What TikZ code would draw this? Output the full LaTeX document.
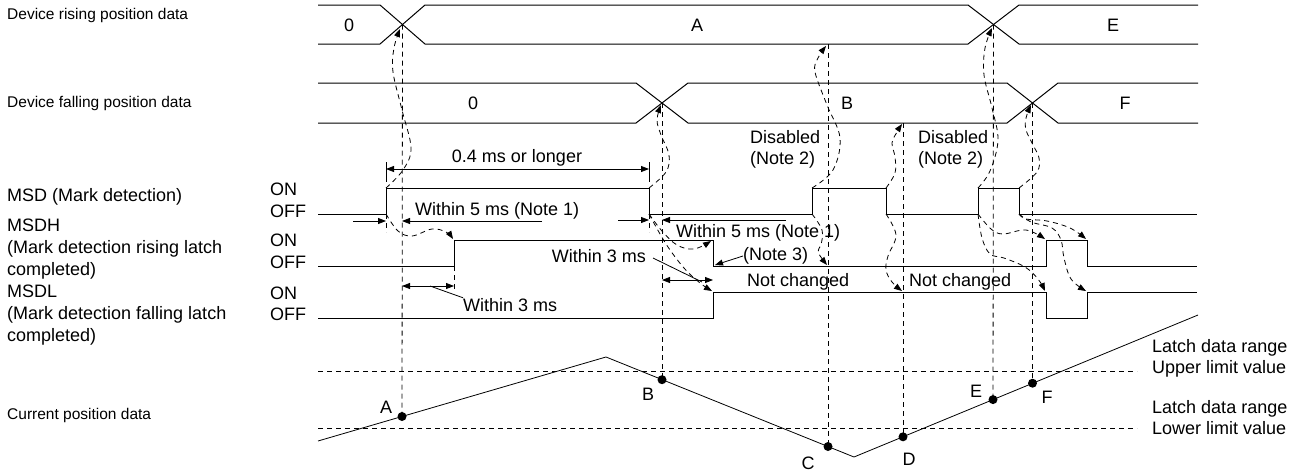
\documentclass[tikz,border=0pt]{standalone}
\usepackage{fontspec}
\setmainfont{Liberation Sans}
\usetikzlibrary{arrows.meta}
\begin{document}
\begin{tikzpicture}[x=1pt,y=-1pt,
  sig/.style={line width=1pt},
  thn/.style={line width=0.8pt},
  dsh/.style={line width=0.8pt, dash pattern=on 5pt off 4pt},
  tip/.style={-{Triangle[length=8pt,width=6pt]}},
  dtip/.style={{Triangle[length=8pt,width=6pt]}-{Triangle[length=8pt,width=6pt]}},
  lbl/.style={font=\fontsize{18}{21}\selectfont, inner sep=0pt},
  slbl/.style={font=\fontsize{15.5}{18}\selectfont, inner sep=0pt},
  dot/.style={circle, fill=black, inner sep=0pt, minimum size=9pt}
]
\useasboundingbox (0,0) rectangle (1300,471);

% left labels
\node[slbl, anchor=base west] (l1) at (7,19) {Device rising position data};
\node[slbl, anchor=base west] (l2) at (7,107) {Device falling position data};
\node[lbl, anchor=base west] (l3) at (7,201) {MSD (Mark detection)};
\node[lbl, anchor=base west] (l4) at (7,231) {MSDH};
\node[lbl, anchor=base west] (l5) at (7,253) {(Mark detection rising latch};
\node[lbl, anchor=base west] (l6) at (7,275) {completed)};
\node[lbl, anchor=base west] (l7) at (7,297) {MSDL};
\node[lbl, anchor=base west] (l8) at (7,319) {(Mark detection falling latch};
\node[lbl, anchor=base west] (l9) at (7,341) {completed)};
\node[slbl, anchor=base west] (l10) at (7,419) {Current position data};

\node[lbl, anchor=base west] (on1) at (270,195) {ON};
\node[lbl, anchor=base west] (off1) at (270,217) {OFF};
\node[lbl, anchor=base west] (on2) at (270,246) {ON};
\node[lbl, anchor=base west] (off2) at (270,268) {OFF};
\node[lbl, anchor=base west] (on3) at (270,299) {ON};
\node[lbl, anchor=base west] (off3) at (270,320) {OFF};

% buses
\draw[sig] (318,5) -- (380,5) -- (425,44) -- (968,44) -- (1019,5) -- (1198,5);
\draw[sig] (318,44) -- (380,44) -- (425,5) -- (968,5) -- (1019,44) -- (1198,44);
\draw[sig] (318,83) -- (636,83) -- (688,123) -- (1007,123) -- (1058,83) -- (1198,83);
\draw[sig] (318,123) -- (636,123) -- (688,83) -- (1007,83) -- (1058,123) -- (1198,123);
\node[lbl] (r0) at (349,25) {0};
\node[lbl] (rA) at (697,25) {A};
\node[lbl] (rE) at (1113,25) {E};
\node[lbl] (f0) at (473,103) {0};
\node[lbl] (fB) at (847,103) {B};
\node[lbl] (fF) at (1125,103) {F};

% crossings
\coordinate (xA) at (402.5,24.5);
\coordinate (xE) at (993.5,24.5);
\coordinate (xB) at (662,103);
\coordinate (xF) at (1032.5,103);

% logic signals
\draw[sig] (318,214) -- (386,214) -- (386,188) -- (649,188) -- (649,214) -- (812,214) -- (812,188) -- (886,188) -- (886,214) -- (978,214) -- (978,188) -- (1019,188) -- (1019,214) -- (1197,214);
\draw[sig] (318,266) -- (454,266) -- (454,240) -- (713,240) -- (713,266) -- (1046,266) -- (1046,240) -- (1087,240) -- (1087,266) -- (1197,266);
\draw[sig] (318,318) -- (713,318) -- (713,292) -- (1046,292) -- (1046,318) -- (1087,318) -- (1087,292) -- (1197,292);

% current position
\draw[thn] (318,441) -- (606,357) -- (854,457) -- (1198,315);
\draw[dsh] (318,371) -- (1137,371);
\draw[dsh] (318,428) -- (1137,428);
\node[dot] (pA) at (402,416.5) {};
\node[dot] (pB) at (662,379.7) {};
\node[dot] (pC) at (828,446.5) {};
\node[dot] (pD) at (903,436.8) {};
\node[dot] (pE) at (993,399.6) {};
\node[dot] (pF) at (1032.5,383.2) {};
\node[lbl] (tA) at (386,407) {A};
\node[lbl] (tB) at (648,394) {B};
\node[lbl] (tC) at (808,463) {C};
\node[lbl] (tD) at (909,459) {D};
\node[lbl] (tE) at (976,391) {E};
\node[lbl] (tF) at (1047,397) {F};
\node[lbl, anchor=base west] (u1) at (1152,352) {Latch data range};
\node[lbl, anchor=base west] (u2) at (1152,373) {Upper limit value};
\node[lbl, anchor=base west] (u3) at (1152,413) {Latch data range};
\node[lbl, anchor=base west] (u4) at (1152,434) {Lower limit value};

% vertical dashed guide lines
\draw[dsh] (xA) -- (pA.center);
\draw[dsh] (xB) -- (pB.center);
\draw[dsh] (828,44) -- (pC.center);
\draw[dsh] (903,123) -- (pD.center);
\draw[dsh] (xE) -- (pE.center);
\draw[dsh] (xF) -- (pF.center);

% dimension: 0.4 ms
\draw[thn] (386,162) -- (386,182);
\draw[thn] (649,162) -- (649,182);
\draw[thn, dtip] (386,169) -- (649,169);
\node[lbl, anchor=base] (d04) at (517,162) {0.4 ms or longer};

% within 5 ms (1)
\draw[thn, tip] (353,221) -- (386,221);
\draw[thn, tip] (542,221) -- (402,221);
\draw[dsh] (386,214) -- (386,232);
\node[lbl, anchor=base west] (w51) at (415,215) {Within 5 ms (Note 1)};
% within 5 ms (2)
\draw[thn, tip] (618,220) -- (649,220);
\draw[thn, tip] (786,220) -- (662,220);
\draw[dsh] (649,214) -- (649,232);
\node[lbl, anchor=base west] (w52) at (676,237) {Within 5 ms (Note 1)};

% within 3 ms (lower)
\draw[dsh] (454,266) -- (454,292);
\draw[thn, dtip] (402,286) -- (454,286);
\node[lbl, anchor=base west] (w31) at (463,311) {Within 3 ms};
\draw[thn] (430,286) -- (w31.north west);
% within 3 ms (middle)
\draw[thn, dtip] (662,280) -- (713,280);
\node[lbl, anchor=base east] (w32) at (646,262) {Within 3 ms};
\draw[thn] (653,258) -- (702,282);
% note 3
\node[lbl, anchor=base west] (n3) at (743,260) {(Note 3)};
\draw[thn, tip] (743,256) -- (715,265);

% not changed / disabled
\node[lbl, anchor=base west] (nc1) at (747,286) {Not changed};
\node[lbl, anchor=base west] (nc2) at (909,286) {Not changed};
\node[lbl, anchor=base west] (ds1) at (750,143) {Disabled};
\node[lbl, anchor=base west] (ds1b) at (750,164) {(Note 2)};
\node[lbl, anchor=base west] (ds2) at (918,143) {Disabled};
\node[lbl, anchor=base west] (ds2b) at (918,164) {(Note 2)};

% dashed curved arrows
\draw[dsh, tip] plot[smooth, tension=0.6] coordinates {(386,188) (403,170) (411,148) (402,110) (393,72) (394,48) (400,29)};
\draw[dsh, tip] plot[smooth, tension=0.6] coordinates {(386,214) (398,231) (412,236) (432,229) (446,232) (453,239)};
\draw[dsh, tip] plot[smooth, tension=0.6] coordinates {(649,188) (666,172) (669,155) (661,135) (657,120) (661,105)};
\draw[dsh, tip] plot[smooth, tension=0.6] coordinates {(649,214) (662,231) (677,245) (694,249) (711,241)};
\draw[dsh, tip] plot[smooth, tension=0.6] coordinates {(649,214) (666,244) (684,268) (700,283) (712,291)};
\draw[dsh, tip] plot[smooth, tension=0.6] coordinates {(812,188) (833,170) (840,138) (827,105) (815,72) (818,58) (826,46)};
\draw[dsh, tip] plot[smooth, tension=0.6] coordinates {(812,214) (822,230) (821,245) (818,252) (827,265)};
\draw[dsh, tip] plot[smooth, tension=0.6] coordinates {(886,188) (895,173) (895,157) (892,143) (897,132) (902,124)};
\draw[dsh, tip] plot[smooth, tension=0.6] coordinates {(886,214) (896,235) (888,256) (886,270) (892,282) (902,291)};
\draw[dsh, tip] plot[smooth, tension=0.6] coordinates {(978,188) (990,171) (998,140) (992,108) (984,75) (985,48) (992,28)};
\draw[dsh, tip] plot[smooth, tension=0.6] coordinates {(1019,188) (1037,172) (1039,158) (1033,145) (1026,130) (1026,118) (1031,105)};
\draw[dsh, tip] plot[smooth, tension=0.6] coordinates {(978,214) (991,229) (1003,234) (1026,230) (1045,239)};
\draw[dsh, tip] plot[smooth, tension=0.6] coordinates {(978,214) (982,238) (990,254) (1004,258) (1025,267) (1038,279) (1045,291)};
\draw[dsh, tip] plot[smooth, tension=0.6] coordinates {(1019,214) (1026,219) (1047,221) (1070,228) (1086,239)};
\draw[dsh, tip] plot[smooth, tension=0.6] coordinates {(1019,214) (1031,222) (1052,228) (1061,240) (1064,258) (1071,279) (1086,291)};
\end{tikzpicture}
\end{document}
